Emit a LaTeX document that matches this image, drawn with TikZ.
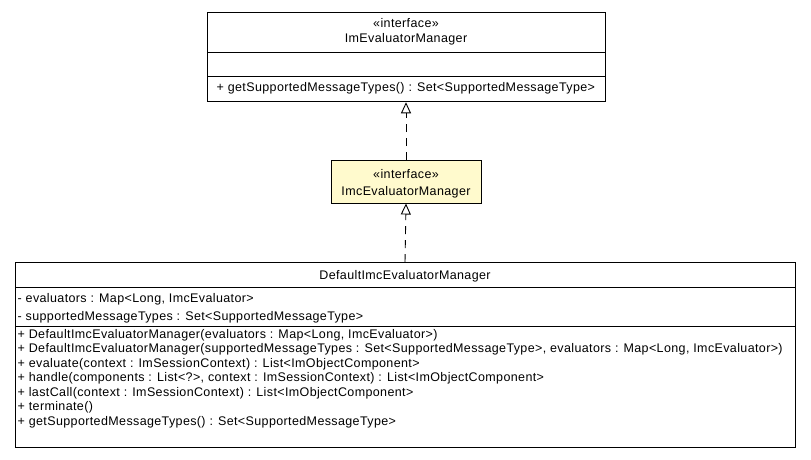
\documentclass[tikz,border=0pt]{standalone}
\usepackage{fontspec}
\setmainfont{Liberation Sans}[LetterSpace=3]
\usetikzlibrary{arrows.meta}
\definecolor{ifacefill}{RGB}{255,250,205}
\tikzset{
  classbox/.style={draw=black, line width=1pt, fill=white, inner sep=0pt},
  txt/.style={inner sep=0pt, font=\fontsize{12.5}{14}\selectfont},
  row/.style={txt, anchor=base west},
  hdr/.style={txt, anchor=base},
  realize/.style={draw=black, line width=0.9pt, dash pattern=on 8pt off 6pt,
    -{Triangle[open, length=11pt, width=10pt, line width=0.9pt]}},
}
\begin{document}
\begin{tikzpicture}[x=1pt, y=-1pt]
\useasboundingbox[fill=white] (0,0) rectangle (811,459);

% ImEvaluatorManager
\node[classbox, minimum width=398pt, minimum height=89.5pt] (im) at (406,57) {};
\draw[line width=1pt] (207,52.5) -- (605,52.5) (207,76.5) -- (605,76.5);
\node[hdr] (imster) at (406,27.5) {«interface»};
\node[hdr] (imname) at (406,42.5) {ImEvaluatorManager};
\node[row] (imop) at (216.5,91) {+ getSupportedMessageTypes() : Set<SupportedMessageType>};

% ImcEvaluatorManager
\node[classbox, fill=ifacefill, minimum width=150pt, minimum height=42.5pt] (imc) at (406,181.75) {};
\node[hdr] (imcster) at (406,178.5) {«interface»};
\node[hdr] (imcname) at (406,195.5) {ImcEvaluatorManager};

% DefaultImcEvaluatorManager
\node[classbox, minimum width=780pt, minimum height=185pt] (dflt) at (405,355) {};
\draw[line width=1pt] (15,287.3) -- (795,287.3) (15,326.7) -- (795,326.7);
\node[hdr] (dname) at (405,279.5) {DefaultImcEvaluatorManager};
\node[row] (a1) at (17.5,302) {- evaluators : Map<Long, ImcEvaluator>};
\node[row] (a2) at (17.5,320) {- supportedMessageTypes : Set<SupportedMessageType>};
\node[row] (m1) at (17.5,338) {+ DefaultImcEvaluatorManager(evaluators : Map<Long, ImcEvaluator>)};
\node[row] (m2) at (17.5,352.5) {+ DefaultImcEvaluatorManager(supportedMessageTypes : Set<SupportedMessageType>, evaluators : Map<Long, ImcEvaluator>)};
\node[row] (m3) at (17.5,367) {+ evaluate(context : ImSessionContext) : List<ImObjectComponent>};
\node[row] (m4) at (17.5,381.5) {+ handle(components : List<?>, context : ImSessionContext) : List<ImObjectComponent>};
\node[row] (m5) at (17.5,396) {+ lastCall(context : ImSessionContext) : List<ImObjectComponent>};
\node[row] (m6) at (17.5,410.5) {+ terminate()};
\node[row] (m7) at (17.5,425) {+ getSupportedMessageTypes() : Set<SupportedMessageType>};

% realizations
\draw[realize] (imc.north) -- (im.south);
\draw[realize] (dflt.north) -- (imc.south);
\end{tikzpicture}
\end{document}
